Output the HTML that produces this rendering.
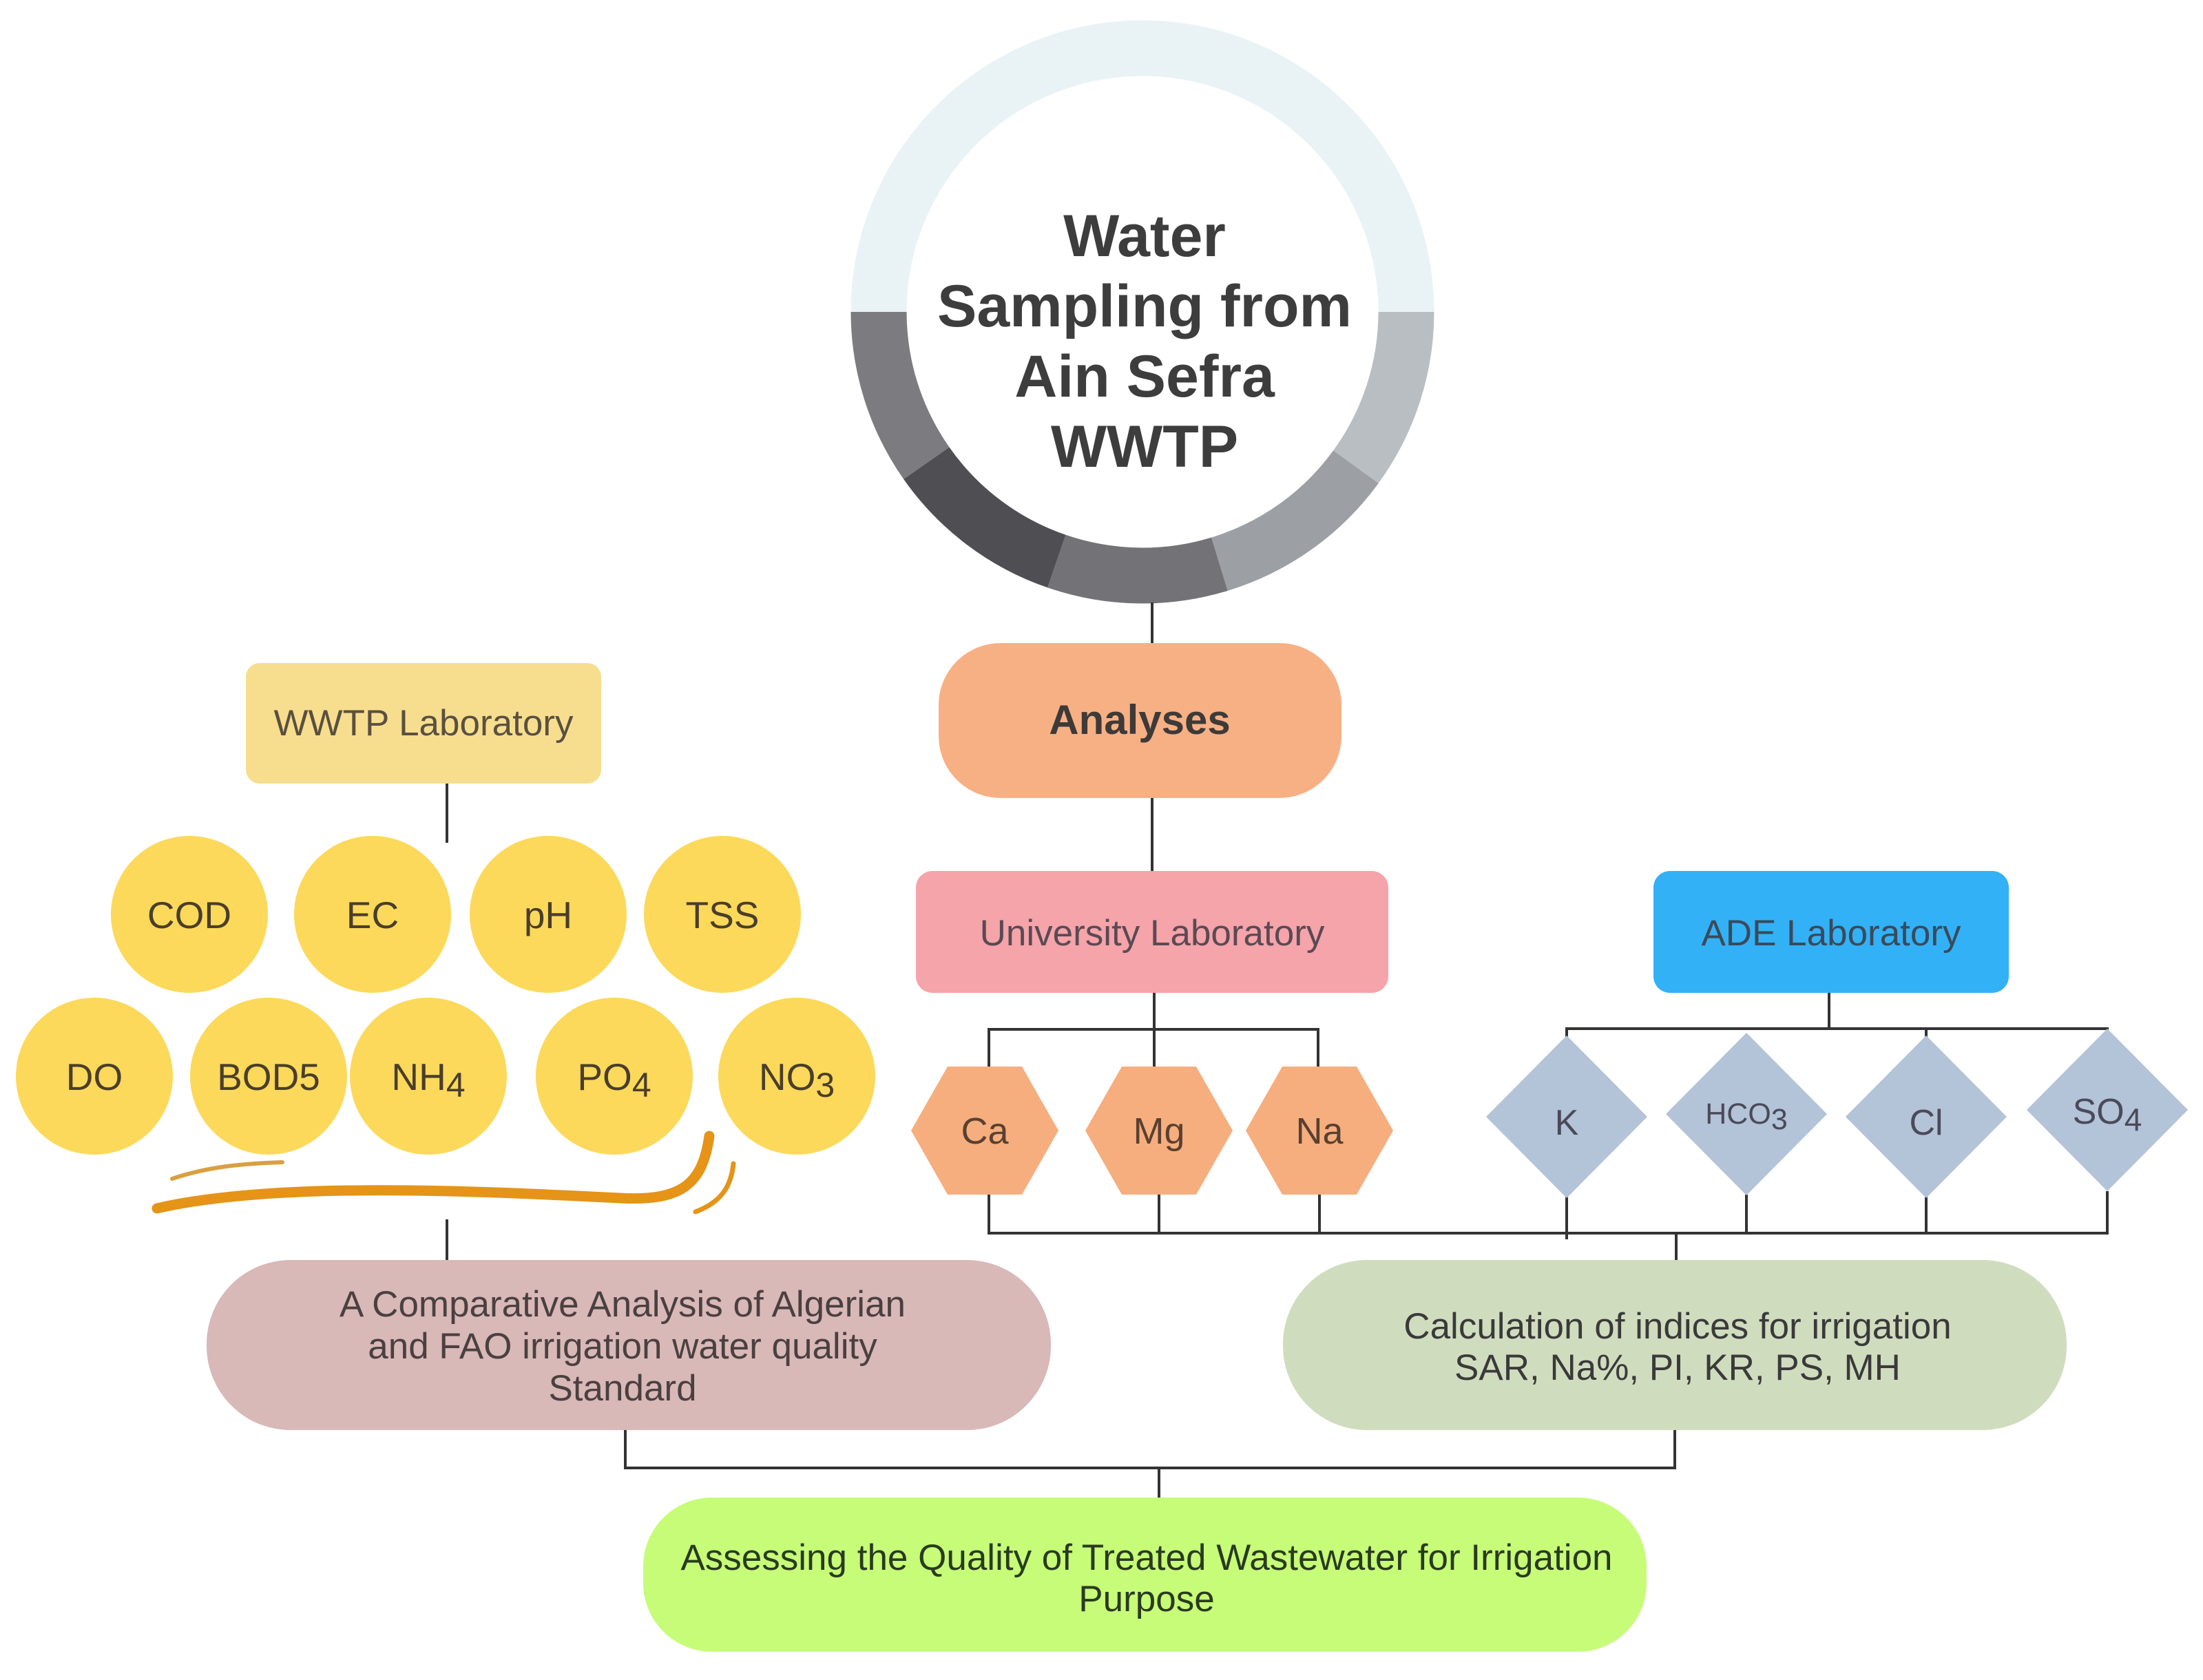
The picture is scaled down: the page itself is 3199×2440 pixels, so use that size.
<!DOCTYPE html>
<html><head><meta charset="utf-8"><style>
html,body{margin:0;padding:0;background:#fff;}
svg{display:block;}
text{font-family:"Liberation Sans",sans-serif;}
</style></head><body>
<svg width="3199" height="2440" viewBox="0 0 3199 2440" xmlns="http://www.w3.org/2000/svg">
<rect width="3199" height="2440" fill="#fff"/>
<g transform="translate(1659,453)" stroke-width="81" fill="none">
<path d="M -383 0 A 383 383 0 0 1 383 0" stroke="#e9f3f6"/>
<path d="M 383 0 A 383 383 0 0 1 309.9 225.1" stroke="#b9bec2"/>
<path d="M 309.9 225.1 A 383 383 0 0 1 111.9 366.3" stroke="#9c9fa4"/>
<path d="M 111.9 366.3 A 383 383 0 0 1 -124.7 362.1" stroke="#737377"/>
<path d="M -124.7 362.1 A 383 383 0 0 1 -313.7 219.7" stroke="#4f4f53"/>
<path d="M -313.7 219.7 A 383 383 0 0 1 -383 0" stroke="#7b7b80"/>
</g>
<g font-weight="bold" fill="#3d3d3d" font-size="86" text-anchor="middle">
<text x="1662" y="372">Water</text>
<text x="1662" y="474">Sampling from</text>
<text x="1662" y="576">Ain Sefra</text>
<text x="1662" y="678">WWTP</text>
</g>
<g stroke="#333" stroke-width="4" fill="none">
<line x1="1673" y1="875" x2="1673" y2="934"/>
<line x1="1673" y1="1159" x2="1673" y2="1265"/>
<line x1="649" y1="1138" x2="649" y2="1224"/>
<line x1="649" y1="1771" x2="649" y2="1830"/>
<polyline points="1436,1555 1436,1495 1914,1495 1914,1555"/>
<line x1="1676" y1="1442" x2="1676" y2="1555"/>
<polyline points="2275,1510 2275,1494 3060,1494 3060,1500"/>
<line x1="2656" y1="1442" x2="2656" y2="1494"/>
<line x1="2797" y1="1494" x2="2797" y2="1510"/>
<polyline points="1436,1730 1436,1791 3060,1791 3060,1730"/>
<line x1="1683" y1="1730" x2="1683" y2="1791"/>
<line x1="1916" y1="1730" x2="1916" y2="1791"/>
<line x1="2275" y1="1735" x2="2275" y2="1800"/>
<line x1="2536" y1="1735" x2="2536" y2="1791"/>
<line x1="2797" y1="1735" x2="2797" y2="1791"/>
<line x1="2434" y1="1791" x2="2434" y2="1830"/>
<polyline points="908,2077 908,2132 2432,2132 2432,2077"/>
<line x1="1683" y1="2132" x2="1683" y2="2175"/>
</g>
<rect x="1363" y="934" width="585" height="225" rx="90" fill="#f7b084"/>
<text x="1655" y="1066" font-size="60" font-weight="bold" fill="#3e3a38" text-anchor="middle">Analyses</text>
<rect x="1330" y="1265" width="686" height="177" rx="24" fill="#f5a4a9"/>
<text x="1673" y="1373" font-size="53" fill="#5a4a55" text-anchor="middle">University Laboratory</text>
<rect x="2401" y="1265" width="516" height="177" rx="24" fill="#33b1f6"/>
<text x="2659" y="1373" font-size="53" fill="#3a4a5a" text-anchor="middle">ADE Laboratory</text>
<rect x="357" y="963" width="516" height="175" rx="20" fill="#f7de8e"/>
<text x="615" y="1068" font-size="53" fill="#5a5040" text-anchor="middle">WWTP Laboratory</text>
<g fill="#fcd95b">
<circle cx="275" cy="1328" r="114"/><circle cx="541" cy="1328" r="114"/><circle cx="796" cy="1328" r="114"/><circle cx="1049" cy="1328" r="114"/>
<circle cx="137" cy="1563" r="114"/><circle cx="390" cy="1563" r="114"/><circle cx="622" cy="1563" r="114"/><circle cx="892" cy="1563" r="114"/><circle cx="1157" cy="1563" r="114"/>
</g>
<g font-size="55" fill="#4a3e2a" text-anchor="middle">
<text x="275" y="1348">COD</text><text x="541" y="1348">EC</text><text x="796" y="1348">pH</text><text x="1049" y="1348">TSS</text>
<text x="137" y="1583">DO</text><text x="390" y="1583">BOD5</text>
<text x="622" y="1583">NH<tspan font-size="50" dy="10">4</tspan></text>
<text x="892" y="1583">PO<tspan font-size="50" dy="10">4</tspan></text>
<text x="1157" y="1583">NO<tspan font-size="50" dy="10">3</tspan></text>
</g>
<g fill="none" stroke="#e59418" stroke-linecap="round">
<path d="M 228 1755 C 400 1715 700 1730 900 1740 C 990 1745 1020 1720 1030 1650" stroke-width="15"/>
<path d="M 250 1712 C 300 1695 350 1690 410 1688" stroke-width="6" stroke="#d9a040"/>
<path d="M 1010 1760 C 1050 1745 1062 1720 1065 1690" stroke-width="7"/>
</g>
<g fill="#f6ae7e">
<polygon points="1323,1642 1376,1549 1484,1549 1537,1642 1484,1735 1376,1735"/>
<polygon points="1576,1642 1629,1549 1737,1549 1790,1642 1737,1735 1629,1735"/>
<polygon points="1809,1642 1862,1549 1970,1549 2023,1642 1970,1735 1862,1735"/>
</g>
<g font-size="54" fill="#5a4030" text-anchor="middle">
<text x="1430" y="1661">Ca</text><text x="1683" y="1661">Mg</text><text x="1916" y="1661">Na</text>
</g>
<g fill="#b3c3d8">
<polygon points="2275,1504 2392,1622 2275,1740 2158,1622"/>
<polygon points="2536,1500 2653,1618 2536,1736 2419,1618"/>
<polygon points="2797,1504 2914,1622 2797,1740 2680,1622"/>
<polygon points="3060,1494 3177,1612 3060,1730 2943,1612"/>
</g>
<g fill="#4a4a5a" text-anchor="middle">
<text x="2275" y="1648" font-size="52">K</text>
<text x="2536" y="1632" font-size="43">HCO<tspan dy="8">3</tspan></text>
<text x="2797" y="1648" font-size="52">Cl</text>
<text x="3060" y="1632" font-size="52">SO<tspan font-size="46" dy="10">4</tspan></text>
</g>
<rect x="300" y="1830" width="1226" height="247" rx="122" fill="#d9b8b8"/>
<g font-size="53" fill="#4a4040" text-anchor="middle">
<text x="904" y="1912">A Comparative Analysis of Algerian</text>
<text x="904" y="1973">and FAO irrigation water quality</text>
<text x="904" y="2034">Standard</text>
</g>
<rect x="1863" y="1830" width="1138" height="247" rx="122" fill="#d0dcbe"/>
<g font-size="53" fill="#3a3a3a" text-anchor="middle">
<text x="2436" y="1944">Calculation of indices for irrigation</text>
<text x="2436" y="2004">SAR, Na%, PI, KR, PS, MH</text>
</g>
<rect x="934" y="2175" width="1457" height="224" rx="100" fill="#c6fc77"/>
<g font-size="53" fill="#2a3a20" text-anchor="middle">
<text x="1665" y="2280">Assessing the Quality of Treated Wastewater for Irrigation</text>
<text x="1665" y="2340">Purpose</text>
</g>
</svg>
</body></html>
